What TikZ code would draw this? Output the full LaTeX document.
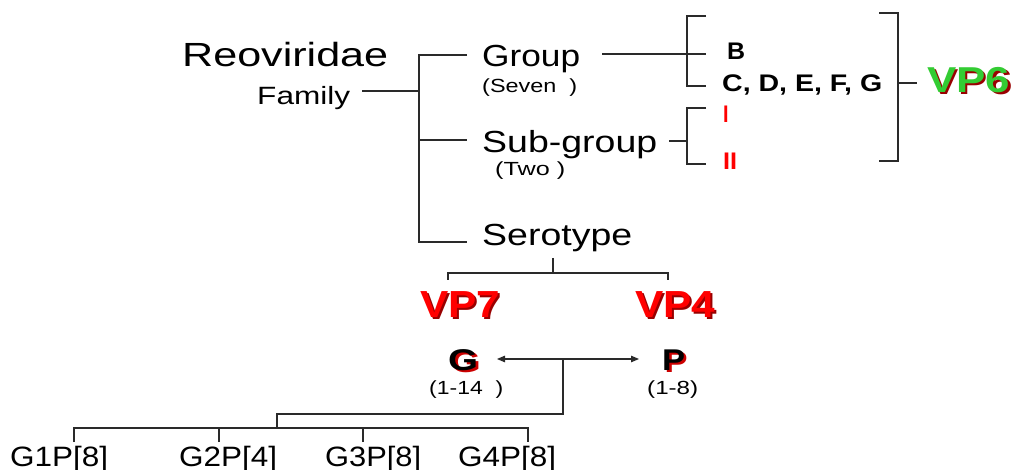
\documentclass[tikz,border=0pt]{standalone}
\usepackage{fontspec}
\setmainfont{Liberation Sans}
\usetikzlibrary{arrows.meta}
\newcommand\T[3]{{\fontsize{#2}{#2}\selectfont\resizebox{#1pt}{\height}{#3}}}
\newcommand\Shd[3]{\rlap{\kern2pt\raisebox{-2pt}{\color{#1}#3}}{\color{#2}#3}}
\definecolor{shred}{HTML}{990000}
\definecolor{gshadow}{HTML}{CC0000}
\definecolor{vpgreen}{HTML}{33CC33}
\definecolor{linecol}{HTML}{2A2A2A}
\begin{document}
\begin{tikzpicture}[x=1pt,y=-1pt,
  lbl/.style={inner sep=0pt, anchor=base west},
  ln/.style={draw=linecol, line width=1.2pt},
  tip/.style={-{Triangle[length=8pt,width=6.5pt]}}]
\useasboundingbox (0,0) rectangle (1017,470);
% texts
\node[lbl] (reo) at (182,67) {\T{206}{33.5}{Reoviridae}};
\node[lbl] (fam) at (257,105) {\T{93}{25}{Family}};
\node[lbl] (grp) at (482,67) {\T{98}{30.5}{Group}};
\node[lbl] (seven) at (482,93) {\T{95}{19}{(Seven~~)}};
\node[lbl] (sub) at (482,153) {\T{175}{30.5}{Sub-group}};
\node[lbl] (two) at (495,176) {\T{70}{19}{(Two~)}};
\node[lbl] (sero) at (482,246) {\T{150}{30.5}{Serotype}};
\node[lbl] (gb) at (727,60) {\T{18}{24}{\bfseries B}};
\node[lbl] (gc) at (722,92) {\T{160}{24}{\bfseries C, D, E, F, G}};
\node[lbl,text=red] (s1) at (723,123) {\T{5.5}{24}{\bfseries I}};
\node[lbl,text=red] (s2) at (723,170) {\T{14}{24}{\bfseries II}};
\node[lbl] (vp6) at (927,93) {\T{83}{36}{\bfseries\Shd{shred}{vpgreen}{VP6}}};
\node[lbl] (vp7) at (420,317) {\T{80}{37.7}{\bfseries\Shd{shred}{red}{VP7}}};
\node[lbl] (vp4) at (635,317) {\T{80}{37.7}{\bfseries\Shd{shred}{red}{VP4}}};
\node[lbl] (gg) at (448,370) {\T{30}{30}{\bfseries\Shd{gshadow}{black}{G}}};
\node[lbl] (pp) at (662,370) {\T{23}{30}{\bfseries\Shd{gshadow}{black}{P}}};
\node[lbl] (gr) at (429,394) {\T{74}{19}{(1-14~~)}};
\node[lbl] (pr) at (647,394) {\T{51}{19}{(1-8)}};
\node[lbl] (l1) at (10,466) {\T{98}{28}{G1P[8]}};
\node[lbl] (l2) at (179,466) {\T{98}{28}{G2P[4]}};
\node[lbl] (l3) at (325,466) {\T{96}{28}{G3P[8]}};
\node[lbl] (l4) at (458,466) {\T{98}{28}{G4P[8]}};
% junction coordinates
\coordinate (famE) at (362,91);
\coordinate (t1) at (419,55);
\coordinate (t2) at (419,140);
\coordinate (t3) at (419,242);
\coordinate (g1) at (467,55);
\coordinate (sb1) at (467,140);
\coordinate (se1) at (467,242);
\coordinate (grpE) at (602,54);
\coordinate (b1top) at (706,16);
\coordinate (b1mid) at (706,54);
\coordinate (b1bot) at (706,86);
\coordinate (b1x) at (687,54);
\coordinate (subE) at (669,141);
\coordinate (b2top) at (706,108);
\coordinate (b2bot) at (706,164);
\coordinate (b2x) at (687,141);
\coordinate (b3top) at (879,13);
\coordinate (b3bot) at (879,161);
\coordinate (b3x) at (898,83);
\coordinate (vp6W) at (917,83);
\coordinate (seroS) at (553,258);
\coordinate (sj) at (553,273);
\coordinate (vp7N) at (448,280);
\coordinate (vp4N) at (668,280);
\coordinate (aL) at (497,359);
\coordinate (aR) at (639,359);
\coordinate (am) at (563,359);
\coordinate (k1) at (563,414);
\coordinate (k2) at (277,414);
\coordinate (k3) at (277,428);
\coordinate (q1) at (74,442);
\coordinate (q2) at (219,442);
\coordinate (q3) at (363,442);
\coordinate (q4) at (528,442);
% connectors
\draw[ln] (famE) -- (t2 |- famE);
\draw[ln] (g1) -- (t1) -- (t3) -- (se1);
\draw[ln] (t2) -- (sb1);
\draw[ln] (grpE) -- (b1mid);
\draw[ln] (b1top) -- (b1top -| b1x) -- (b1bot -| b1x) -- (b1bot);
\draw[ln] (subE) -- (b2x);
\draw[ln] (b2top) -- (b2top -| b2x) -- (b2bot -| b2x) -- (b2bot);
\draw[ln] (b3top) -- (b3top -| b3x) -- (b3bot -| b3x) -- (b3bot);
\draw[ln] (b3x) -- (vp6W);
\draw[ln] (seroS) -- (sj);
\draw[ln] (vp7N) -- (vp7N |- sj) -- (vp4N |- sj) -- (vp4N);
\draw[ln,tip] (am) -- (aL);
\draw[ln,tip] (am) -- (aR);
\draw[ln] (am) -- (k1) -- (k2) -- (k3);
\draw[ln] (q1) -- (q1 |- k3) -- (q4 |- k3) -- (q4);
\draw[ln] (q2) -- (q2 |- k3);
\draw[ln] (q3) -- (q3 |- k3);
\end{tikzpicture}
\end{document}
